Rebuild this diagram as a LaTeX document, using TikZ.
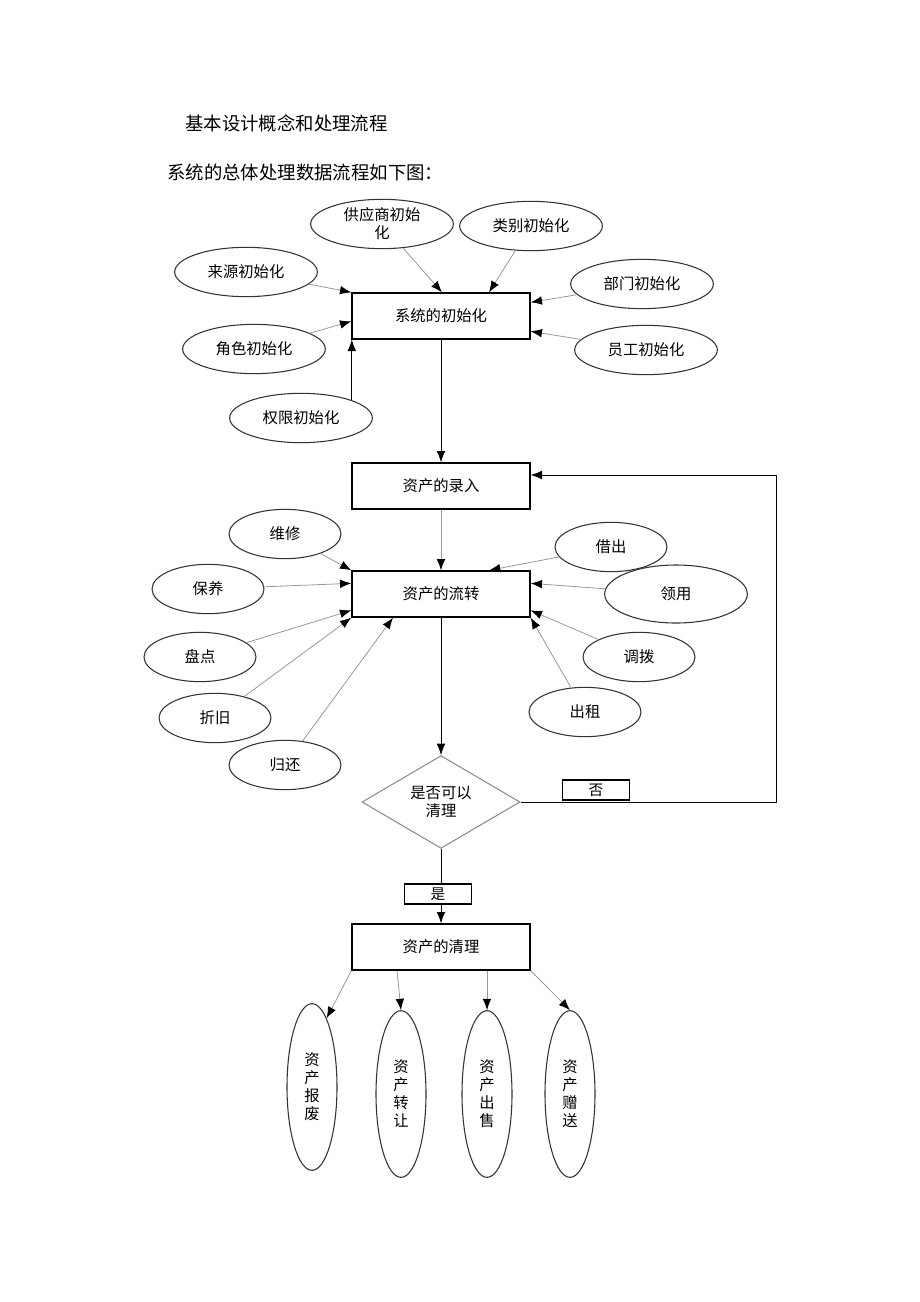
\documentclass[tikz,border=0pt]{standalone}
\usepackage{fontspec}
\setmainfont{Noto Sans CJK SC}
\usetikzlibrary{shapes.geometric,arrows.meta,calc}
\begin{document}
\begin{tikzpicture}[x=0.75pt,y=-0.75pt,
  box/.style={draw=black,line width=1pt,minimum width=133.5pt,minimum height=34.5pt,inner sep=0pt,font=\fontsize{11.5}{13}\selectfont},
  ell/.style={ellipse,draw=black!80,line width=0.8pt,inner sep=0pt,align=center,font=\fontsize{11.5}{13.5}\selectfont},
  big/.style={ell,minimum width=107pt,minimum height=37pt},
  sm/.style={ell,minimum width=84pt,minimum height=37pt},
  tall/.style={ell,minimum width=37.5pt,minimum height=125pt},
  lbl/.style={draw=black,line width=0.9pt,fill=white,minimum width=50pt,minimum height=15pt,inner sep=0pt,font=\fontsize{11}{12}\selectfont},
  ga/.style={draw=black!40,line width=0.6pt,-{Latex[length=8.5pt,width=6.5pt,color=black]}},
  ka/.style={draw=black,line width=0.65pt,-{Latex[length=8.5pt,width=6.5pt]}},
  ttl/.style={anchor=west,inner sep=0pt,font=\fontsize{13.8}{15}\selectfont}
]
\useasboundingbox (0,0) rectangle (920,1302);

\node[ttl] (t1) at (185,123) {基本设计概念和处理流程};
\node[ttl] (t2) at (167,172) {系统的总体处理数据流程如下图：};

% system init
\node[box] (b1) at (441,316) {系统的初始化};
\node[big] (gy) at (382,224) {供应商初始\\化};
\node[big] (lb) at (531,226) {类别初始化};
\node[big] (ly) at (246,272) {来源初始化};
\node[big] (bm) at (642,284) {部门初始化};
\node[big] (js) at (254,349) {角色初始化};
\node[big] (yg) at (646,350) {员工初始化};
\node[big] (qx) at (301,418) {权限初始化};

\draw[ga] (ly) -- (b1.north west);
\draw[ga] (gy) -- ($(b1.north)+(1,0)$);
\draw[ga] (lb) -- ($(b1.north)+(48,0)$);
\draw[ga] (bm) -- ($(b1.north east)+(0,10)$);
\draw[ga] (yg) -- ($(b1.north east)+(0,39)$);
\draw[ga] (js) -- ($(b1.north west)+(0,29)$);
\draw[ka] (qx.north east) -- (qx.north east |- b1.south);

% asset entry
\node[box] (b2) at (441,486) {资产的录入};
\draw[ka] (b1) -- (b2);

% asset circulation
\node[box] (b3) at (441,594) {资产的流转};
\draw[ga] (b2) -- (b3);

\node[sm] (wx) at (285,534) {维修};
\node[sm] (by) at (208,589) {保养};
\node[sm] (pd) at (200,657) {盘点};
\node[sm] (zj) at (215,718) {折旧};
\node[sm] (gh) at (285,765) {归还};
\node[sm] (jc) at (611,547) {借出};
\node[ell,minimum width=107pt,minimum height=43.5pt] (ly2) at (676,594) {领用};
\node[sm] (db) at (639,657) {调拨};
\node[sm] (cz) at (585,712) {出租};

\draw[ga] (wx) -- (b3.north west);
\draw[ga] (by) -- ($(b3.north west)+(0,13)$);
\draw[ga] (pd) -- ($(b3.north west)+(0,40)$);
\draw[ga] (zj) -- (b3.south west);
\draw[ga] (gh) -- ($(b3.south)+(-48,0)$);
\draw[ga] (jc) -- ($(b3.north)+(48,0)$);
\draw[ga] (ly2) -- ($(b3.north east)+(0,13)$);
\draw[ga] (db) -- ($(b3.north east)+(0,40)$);
\draw[ga] (cz) -- (b3.south east);

% decision
\node[diamond,draw=black!45,line width=0.8pt,minimum width=118.5pt,minimum height=66pt,inner sep=0pt,align=center,font=\fontsize{11.5}{13.5}\selectfont] (d) at (441,802) {是否可以\\清理};
\draw[ka] (b3) -- (d);
\draw[ka] (d.east) -- ++(256,0) |- ($(b2.east)+(0,-11)$);
\node[lbl] (no) at (596,790) {否};

% cleanup
\node[box] (b4) at (441,947) {资产的清理};
\draw[ka] (d.south) -- (b4.north);
\node[lbl] (yes) at (438,894) {是};

\node[tall] (e1) at (312,1087) {资\\产\\报\\废};
\node[tall] (e2) at (401,1094) {资\\产\\转\\让};
\node[tall] (e3) at (487,1094) {资\\产\\出\\售};
\node[tall] (e4) at (570,1094) {资\\产\\赠\\送};

\draw[ga] (b4.south west) -- (e1.78);
\draw[ga] ($(b4.south)+(-44,0)$) -- (e2.north);
\draw[ga] ($(b4.south)+(46,0)$) -- (e3.north);
\draw[ga] (b4.south east) -- (e4.north);
\end{tikzpicture}
\end{document}
